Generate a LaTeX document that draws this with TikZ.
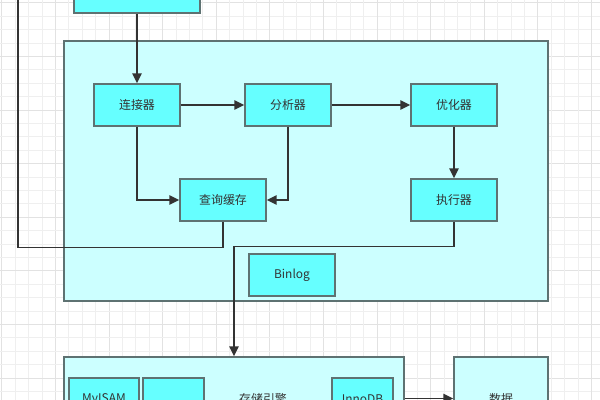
\documentclass[tikz,border=0pt]{standalone}
\usepackage{fontspec}
\setmainfont{Noto Sans CJK SC}
\usetikzlibrary{arrows.meta,calc}
\definecolor{boxcyan}{HTML}{66FFFF}
\definecolor{panelcyan}{HTML}{CCFFFF}
\definecolor{boxedge}{HTML}{5E7272}
\definecolor{flowdark}{HTML}{333333}
\definecolor{gridminor}{HTML}{EFEFEF}
\definecolor{gridmajor}{HTML}{E2E2E2}
\tikzset{
  >={Triangle[length=7pt,width=6.6pt]},
  module/.style={
    rectangle, draw=boxedge, line width=1pt, fill=boxcyan,
    minimum width=2.15cm, minimum height=1.05cm, inner sep=0pt,
    font=\fontsize{8.5}{10}\selectfont, text=flowdark
  },
  panel/.style={
    rectangle, draw=boxedge, line width=1pt, fill=panelcyan, inner sep=0pt
  },
  flow/.style={->, line width=1.1pt, draw=flowdark},
  wire/.style={line width=1.1pt, draw=flowdark},
  label/.style={font=\fontsize{8.5}{10}\selectfont, text=flowdark}
}
\begin{document}
\begin{tikzpicture}[x=0.025cm, y=-0.025cm]
\useasboundingbox (0,0) rectangle (600,400);
\clip (0,0) rectangle (600,400);
\fill[white] (0,0) rectangle (600,400);
% background grid
\foreach \k in {0,...,45}{
  \pgfmathtruncatemacro{\mj}{mod(\k,4)}
  \ifnum\mj=0 \def\gc{gridmajor}\else \def\gc{gridminor}\fi
  \draw[\gc, line width=0.5pt] (1.7+\k*13.4,0) -- (1.7+\k*13.4,400);
  \draw[\gc, line width=0.5pt] (0,2.7+\k*13.4) -- (600,2.7+\k*13.4);
}
% server layer
\node[panel, minimum width=12.1cm, minimum height=6.5cm] (server) at (306,171) {};
\node[module, minimum width=3.15cm, minimum height=1.075cm] (client) at (137,-8.5) {};
\node[module] (conn) at (137,105) {连接器};
\node[module] (parser) at (288,105) {分析器};
\node[module] (optim) at (454,105) {优化器};
\node[module] (cache) at (223,200) {查询缓存};
\node[module] (exec) at (454,200) {执行器};
\node[module] (binlog) at (292,275) {Binlog};
% storage layer
\node[panel, minimum width=8.5cm, minimum height=2.075cm] (storage) at (234,398.5) {};
\node[label] (engine) at (263,398.5) {存储引擎};
\node[module, minimum width=1.75cm] (myisam) at (104,399) {MyISAM};
\node[module, minimum width=1.525cm] (other) at (173.5,399) {};
\node[module, minimum width=1.525cm] (innodb) at (362.5,399) {InnoDB};
\node[panel, minimum width=2.35cm, minimum height=2.075cm, label] (data) at (501,398.5) {数据};
\coordinate (back) at (18,-30);
% connectors
\draw[flow] (client.south) -- (conn.north);
\draw[flow] (conn) -- (parser);
\draw[flow] (parser) -- (optim);
\draw[flow] (optim) -- (exec);
\draw[flow] (conn.south) |- (cache.west);
\draw[flow] (parser.south) |- (cache.east);
\draw[wire] (cache.south) -- ++(0,26) -| (back);
\draw[flow] (exec.south) -- ++(0,25) -| (storage.north);
\draw[flow] (storage) -- (data);
\end{tikzpicture}
\end{document}
